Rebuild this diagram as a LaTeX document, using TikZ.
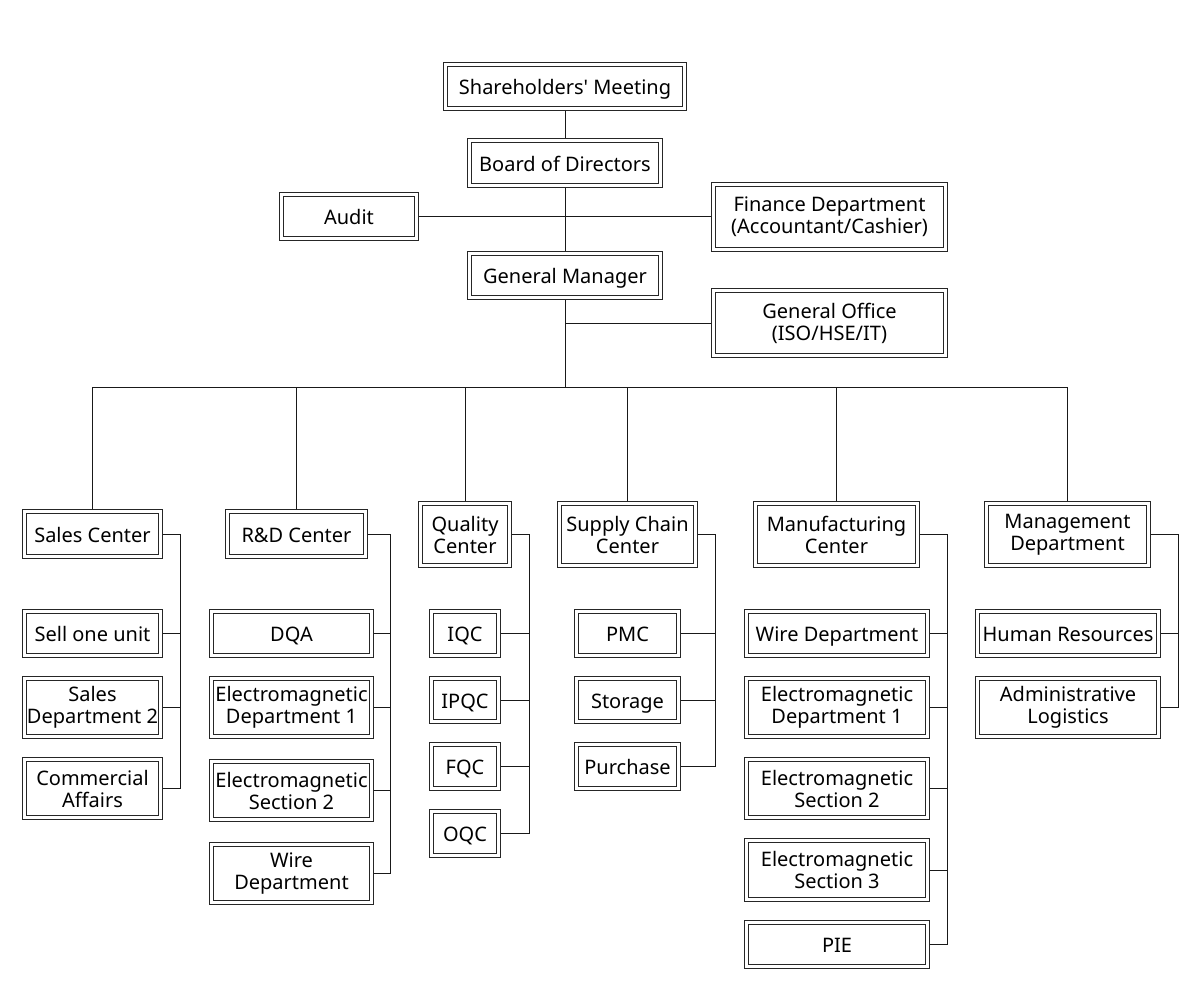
\documentclass[tikz,border=0pt]{standalone}
\usepackage{fontspec}
\newfontfamily\nf{Noto Sans}
\tikzset{
  bx/.style={draw=black!85, line width=0.75pt, double=white, double distance=2.25pt,
    inner sep=0pt, outer sep=1.875pt, align=center,
    font=\nf\fontsize{15pt}{16.5pt}\selectfont},
  one/.style={text height=12pt, text depth=0pt},
  sz/.style 2 args={minimum width={(#1-5)*0.75pt}, minimum height={(#2-5)*0.75pt}},
  ln/.style={draw=black!90, line width=0.75pt}
}
\begin{document}
\begin{tikzpicture}[x=0.75pt,y=-0.75pt]
\useasboundingbox (0,0) rectangle (1200,1003);
% top
\node[bx,one,sz={244}{49}] (sh) at (565,86.5) {Shareholders' Meeting};
\node[bx,one,sz={196}{50}] (bod) at (565,163) {Board of Directors};
\node[bx,one,sz={140}{49}] (audit) at (349,216.5) {Audit};
\node[bx,sz={237}{70}] (fin) at (829.5,217) {Finance Department\\(Accountant/Cashier)};
\node[bx,one,sz={196}{49}] (gm) at (565,275.5) {General Manager};
\node[bx,sz={237}{70}] (go) at (829.5,323) {General Office\\(ISO/HSE/IT)};
\coordinate (trunk) at (565,387);
% level 2
\node[bx,one,sz={141}{50}] (sales) at (92.5,534) {Sales Center};
\node[bx,one,sz={143}{50}] (rd) at (296.5,534) {R\&D Center};
\node[bx,sz={94}{67}] (qual) at (465,534.5) {Quality\\Center};
\node[bx,sz={141}{67}] (supply) at (627.5,534.5) {Supply Chain\\Center};
\node[bx,sz={167}{67}] (manu) at (836.5,534.5) {Manufacturing\\Center};
\node[bx,sz={167}{67}] (mgmt) at (1067.5,534.5) {Management\\Department};
% sales children
\node[bx,one,sz={141}{49}] (sell) at (92.5,633.5) {Sell one unit};
\node[bx,sz={141}{63}] (sd2) at (92.5,707.5) {Sales\\Department 2};
\node[bx,sz={141}{63}] (comm) at (92.5,788.5) {Commercial\\Affairs};
% R&D children
\node[bx,one,sz={165}{49}] (dqa) at (291.5,633.5) {DQA};
\node[bx,sz={165}{63}] (rem1) at (291.5,707.5) {Electromagnetic\\Department 1};
\node[bx,sz={165}{63}] (res2) at (291.5,790.5) {Electromagnetic\\Section 2};
\node[bx,sz={165}{63}] (rwire) at (291.5,873.5) {Wire\\Department};
% quality children
\node[bx,one,sz={72}{49}] (iqc) at (465,633.5) {IQC};
\node[bx,one,sz={72}{48}] (ipqc) at (465,700) {IPQC};
\node[bx,one,sz={72}{49}] (fqc) at (465,766.5) {FQC};
\node[bx,one,sz={72}{49}] (oqc) at (465,833.5) {OQC};
% supply children
\node[bx,one,sz={107}{49}] (pmc) at (627.5,633.5) {PMC};
\node[bx,one,sz={107}{48}] (stor) at (627.5,700) {Storage};
\node[bx,one,sz={107}{49}] (purch) at (627.5,766.5) {Purchase};
% manufacturing children
\node[bx,one,sz={186}{49}] (mwd) at (837,633.5) {Wire Department};
\node[bx,sz={186}{63}] (mem1) at (837,707.5) {Electromagnetic\\Department 1};
\node[bx,sz={186}{63}] (mes2) at (837,788.5) {Electromagnetic\\Section 2};
\node[bx,sz={186}{64}] (mes3) at (837,870) {Electromagnetic\\Section 3};
\node[bx,one,sz={186}{49}] (pie) at (837,944.5) {PIE};
% management children
\node[bx,one,sz={186}{49}] (hr) at (1068,633.5) {Human Resources};
\node[bx,sz={186}{63}] (al) at (1068,707.5) {Administrative\\Logistics};
% bus coordinates
\coordinate (bS) at (180,0);
\coordinate (bR) at (390,0);
\coordinate (bQ) at (529,0);
\coordinate (bP) at (715,0);
\coordinate (bM) at (947,0);
\coordinate (bG) at (1178,0);
% top connectors
\draw[ln] (sh) -- (bod);
\draw[ln] (bod) -- (gm);
\draw[ln] (audit.east) -- (audit.east -| fin.west);
\draw[ln] (gm.south) -- (trunk);
\draw[ln] (trunk |- go.west) -- (go.west);
\draw[ln] (sales.north) |- (mgmt.north |- trunk) -- (mgmt.north);
\foreach \n in {rd,qual,supply,manu} \draw[ln] (\n.north) -- (\n.north |- trunk);
% group connectors
\draw[ln] (sales.east) -| (bS |- comm.east) -- (comm.east);
\foreach \n in {sell,sd2} \draw[ln] (\n.east) -- (\n.east -| bS);
\draw[ln] (rd.east) -| (bR |- rwire.east) -- (rwire.east);
\foreach \n in {dqa,rem1,res2} \draw[ln] (\n.east) -- (\n.east -| bR);
\draw[ln] (qual.east) -| (bQ |- oqc.east) -- (oqc.east);
\foreach \n in {iqc,ipqc,fqc} \draw[ln] (\n.east) -- (\n.east -| bQ);
\draw[ln] (supply.east) -| (bP |- purch.east) -- (purch.east);
\foreach \n in {pmc,stor} \draw[ln] (\n.east) -- (\n.east -| bP);
\draw[ln] (manu.east) -| (bM |- pie.east) -- (pie.east);
\foreach \n in {mwd,mem1,mes2,mes3} \draw[ln] (\n.east) -- (\n.east -| bM);
\draw[ln] (mgmt.east) -| (bG |- al.east) -- (al.east);
\draw[ln] (hr.east) -- (hr.east -| bG);
\end{tikzpicture}
\end{document}
